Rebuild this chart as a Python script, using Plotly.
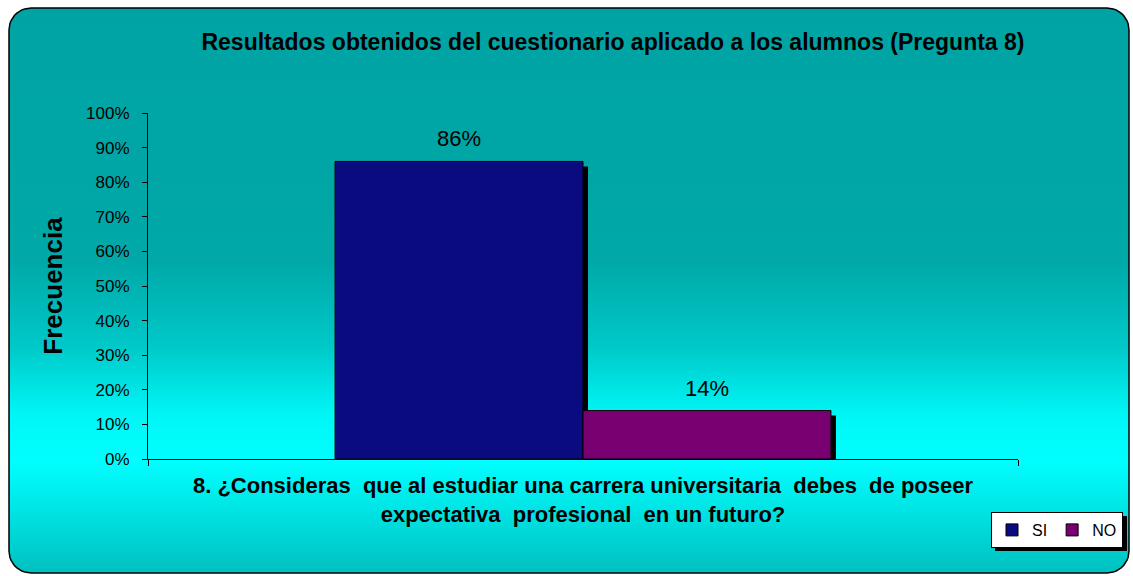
import numpy as np
import plotly.graph_objects as go

# ---------------- data ----------------
chart_title = "Resultados obtenidos del cuestionario aplicado a los alumnos (Pregunta 8)"
categories = ["8. ¿Consideras\u00a0 que al estudiar una carrera universitaria\u00a0 debes\u00a0 de poseer<br>"
              "expectativa\u00a0 profesional\u00a0 en un futuro?"]
series_names = ["SI", "NO"]
series_values = [[0.86], [0.14]]
series_colors = ["#0B0B80", "#780070"]
y_tick_values = [0, 0.1, 0.2, 0.3, 0.4, 0.5, 0.6, 0.7, 0.8, 0.9, 1.0]
y_title = "Frecuencia"

# ---------------- layout geometry (pixels) ----------------
W, H = 1133, 576
PX0, PX1 = 148, 1018       # plot area left/right
PY_TOP, PY_BOT = 113, 459  # plot area top/bottom
SH = 5                     # shadow offset px
BARGAP = 0.43

xdom = [PX0 / W, PX1 / W]
ydom = [1 - PY_BOT / H, 1 - PY_TOP / H]
dx = SH / (PX1 - PX0)
dy = SH / (PY_BOT - PY_TOP)

FONT = "Liberation Sans, Arial, sans-serif"

fig = go.Figure()

# background: rounded rectangle with vertical gradient (pixel coords)
bx0, bx1, by0, by1, r = 9, 1129, 8, 573, 22
pts = []
for cx, cy, a0 in [(bx1 - r, by0 + r, -90), (bx1 - r, by1 - r, 0),
                   (bx0 + r, by1 - r, 90), (bx0 + r, by0 + r, 180)]:
    for a in np.linspace(a0, a0 + 90, 12):
        pts.append((cx + r * np.cos(np.radians(a)), cy + r * np.sin(np.radians(a))))
pts.append(pts[0])
fig.add_trace(go.Scatter(
    x=[p[0] for p in pts], y=[p[1] for p in pts], xaxis="x", yaxis="y",
    mode="lines", fill="toself", line=dict(color="black", width=1.5),
    fillgradient=dict(type="vertical", start=0, stop=H,
                      colorscale=[[0, "#00A3A3"], [0.45, "#00A8A8"], [0.6, "#00C8C8"],
                                  [0.72, "#00F6F6"], [0.8, "#00FFFF"], [0.88, "#00E6E6"],
                                  [1.0, "#00BEBE"]]),
    hoverinfo="skip", showlegend=False))

# shadows
for name, vals in zip(series_names, series_values):
    fig.add_trace(go.Bar(x=categories, y=vals, xaxis="x2", yaxis="y2",
                         marker=dict(color="black", line=dict(width=0)),
                         hoverinfo="skip", showlegend=False))

# main bars
for name, vals, col in zip(series_names, series_values, series_colors):
    fig.add_trace(go.Bar(x=categories, y=vals, name=name, xaxis="x3", yaxis="y3",
                         marker=dict(color=col, line=dict(color="black", width=1))))

# value labels above the bars (positioned through the axes)
n = len(series_names)
group_w = 1 - BARGAP
annotations = []
for i, vals in enumerate(series_values):
    for j, v in enumerate(vals):
        annotations.append(dict(
            x=j + (i - (n - 1) / 2) * group_w / n, y=v, xref="x3", yref="y3",
            text=f"{v:.0%}", showarrow=False, yanchor="bottom", yshift=8,
            font=dict(family=FONT, size=22, color="black")))

# legend drop shadow (decoration)
shapes = [dict(type="rect", xref="paper", yref="paper", layer="above",
               x0=995 / W, x1=1127 / W, y0=1 - 551 / H, y1=1 - 516 / H,
               fillcolor="black", line=dict(width=0))]

fig.update_layout(
    template="none",
    width=W, height=H,
    margin=dict(l=0, r=0, t=0, b=0, pad=0, autoexpand=False),
    paper_bgcolor="white", plot_bgcolor="rgba(0,0,0,0)",
    barmode="group", bargap=BARGAP, bargroupgap=0,
    hovermode=False,
    font=dict(family=FONT, color="black"),
    title=dict(text="<b>" + chart_title + "</b>", x=613 / W, xanchor="center",
               y=1 - 42 / H, yanchor="middle", font=dict(family=FONT, size=23, color="black")),
    annotations=annotations,
    shapes=shapes,
    xaxis=dict(domain=[0, 1], range=[0, W], visible=False, fixedrange=True, automargin=False),
    yaxis=dict(domain=[0, 1], range=[H, 0], visible=False, fixedrange=True, automargin=False),
    xaxis2=dict(domain=xdom, anchor="y2", type="category", range=[-0.5 - dx, 0.5 - dx],
                visible=False, automargin=False),
    yaxis2=dict(domain=ydom, anchor="x2", range=[dy, 1 + dy], visible=False, automargin=False),
    xaxis3=dict(domain=xdom, anchor="y3", overlaying="x2", type="category", range=[-0.5, 0.5],
                automargin=False, showline=True, linecolor="black", linewidth=1,
                ticks="outside", tickson="boundaries", ticklen=6, tickcolor="black",
                ticklabelstandoff=7,
                tickfont=dict(family=FONT, size=22, color="black", weight="bold"), showgrid=False),
    yaxis3=dict(domain=ydom, anchor="x3", overlaying="y2", range=[0, 1], automargin=False,
                tickvals=y_tick_values, tickformat=".0%",
                showline=True, linecolor="black", linewidth=1,
                ticks="outside", ticklen=5, tickcolor="black", showgrid=False, zeroline=False,
                ticklabelstandoff=9,
                tickfont=dict(family=FONT, size=17, color="black"),
                title=dict(text="<b>" + y_title + "</b>", standoff=16,
                           font=dict(family=FONT, size=26, color="black"))),
    legend=dict(orientation="h", x=1123 / W, y=1 - 530 / H, xanchor="right", yanchor="middle",
                bgcolor="white", bordercolor="black", borderwidth=1,
                font=dict(family=FONT, size=16, color="black"), itemwidth=30),
)

post = """
document.documentElement.style.margin='0';
document.documentElement.style.overflow='hidden';
document.body.style.margin='0';
document.body.style.overflow='hidden';
var gd = document.getElementById('{plot_id}');
gd.style.position='absolute'; gd.style.left='0px'; gd.style.top='0px';
"""
fig.write_html("out.html", post_script=post, config={"displayModeBar": False})
